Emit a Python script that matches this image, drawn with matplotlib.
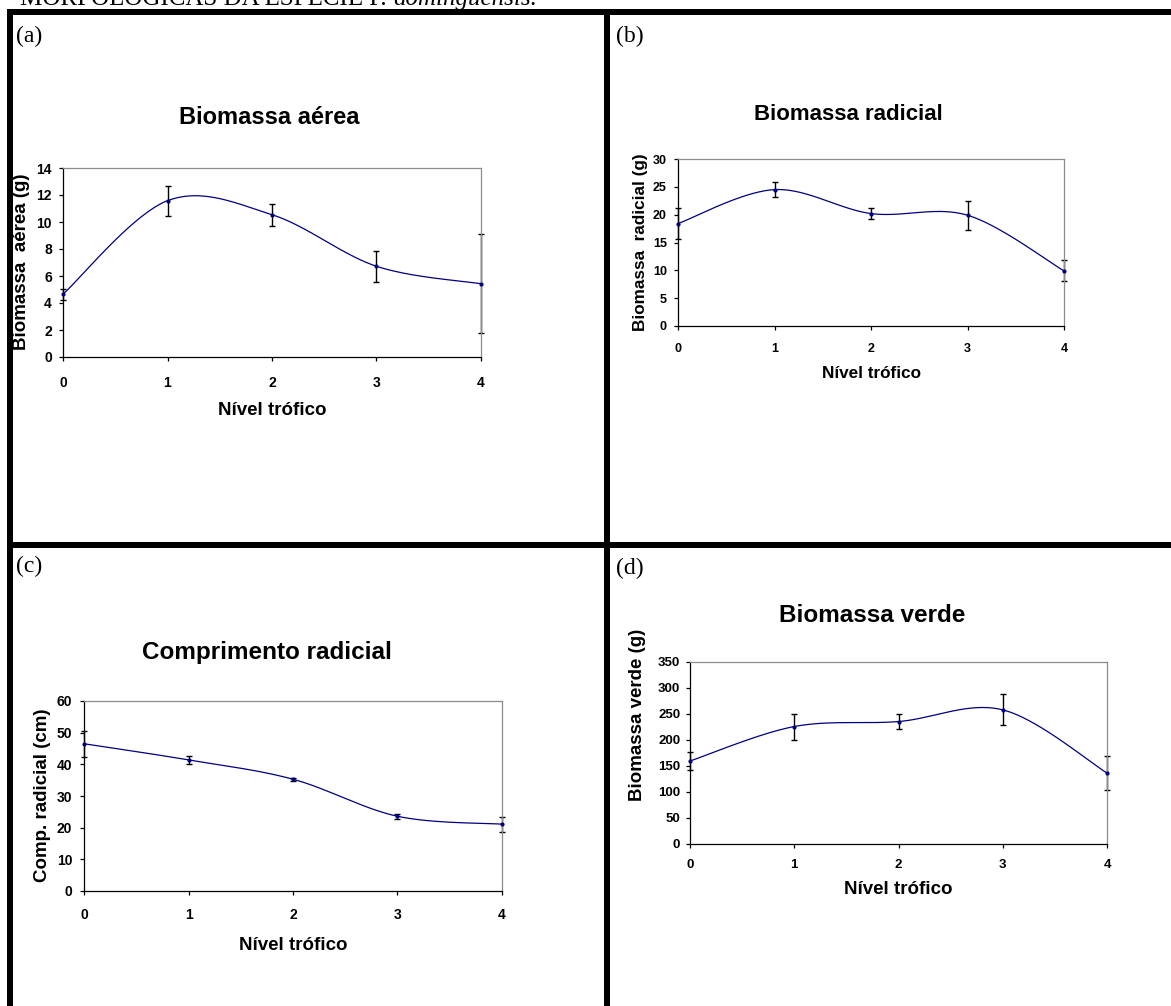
import numpy as np
import matplotlib
matplotlib.use("Agg")
import matplotlib.pyplot as plt
from matplotlib.lines import Line2D

W, H = 1171, 1006
DPI = 100

# ---------------- data ----------------
niveis = [0, 1, 2, 3, 4]
aerea = [4.65, 11.58, 10.54, 6.72, 5.43]
aerea_err = [0.40, 1.10, 0.83, 1.15, 3.68]
radicial = [18.4, 24.5, 20.2, 19.9, 9.9]
radicial_err = [2.8, 1.4, 1.0, 2.6, 1.9]
comp = [46.5, 41.4, 35.3, 23.6, 21.1]
comp_err = [4.1, 1.3, 0.5, 0.8, 2.4]
verde = [159.6, 225.9, 235.5, 258.0, 136.4]
verde_err = [17, 25, 14.5, 30, 32]

titles = ["Biomassa aérea", "Biomassa radicial", "Comprimento radicial", "Biomassa verde"]
ylabels = ["Biomassa  aérea (g)", "Biomassa  radicial (g)", "Comp. radicial (cm)", "Biomassa verde (g)"]
xlabel = "Nível trófico"
panel_tags = ["(a)", "(b)", "(c)", "(d)"]
header_parts = ["MORFOLÓGICAS DA ESPÉCIE P. ", "dominguensis."]

plt.rcParams['font.family'] = ['Liberation Sans', 'DejaVu Sans']

fig = plt.figure(figsize=(W / DPI, H / DPI), dpi=DPI)


def fx(px):
    return px / W


def fy(py):
    return 1 - py / H


def smooth(x, y, n=40):
    P = np.column_stack([x, y]).astype(float)
    Pe = np.vstack([P[0], P, P[-1]])
    t = np.linspace(0, 1, n)[:, None]
    out = []
    for i in range(len(P) - 1):
        p0, p1, p2, p3 = Pe[i], Pe[i + 1], Pe[i + 2], Pe[i + 3]
        c1 = p1 + (p2 - p0) / 6
        c2 = p2 - (p3 - p1) / 6
        seg = (1 - t) ** 3 * p1 + 3 * (1 - t) ** 2 * t * c1 + 3 * (1 - t) * t ** 2 * c2 + t ** 3 * p2
        out.append(seg if i == 0 else seg[1:])
    return np.vstack(out)


# panel specs: axes box (l, r, t, b) px, ymax, ystep, font sizes, text positions
specs = [
    dict(y=aerea, e=aerea_err, box=(63, 481, 168, 357), ymax=14, step=2,
         tfs=17, title_xy=(269, 118), lfs=13.5, xl_xy=(272, 411), yl_xy=(22, 262),
         tick_fs=10, xpad=10.5, ypad=5),
    dict(y=radicial, e=radicial_err, box=(678, 1064, 159, 326), ymax=30, step=5,
         tfs=16, title_xy=(848, 115), lfs=12.3, xl_xy=(872, 374), yl_xy=(640, 242),
         tick_fs=9, xpad=9.5, ypad=5),
    dict(y=comp, e=comp_err, box=(84, 502, 701, 891), ymax=60, step=10,
         tfs=17.5, title_xy=(267, 653), lfs=13.5, xl_xy=(293, 945), yl_xy=(43, 795),
         tick_fs=10, xpad=9.5, ypad=5.5),
    dict(y=verde, e=verde_err, box=(690, 1107, 662, 844), ymax=350, step=50,
         tfs=17.5, title_xy=(872, 615), lfs=13.5, xl_xy=(898, 890), yl_xy=(637, 715),
         tick_fs=9.5, xpad=8, ypad=4),
]

for sp in specs:
    l, r, t, b = sp['box']
    ax = fig.add_axes([fx(l), fy(b), (r - l) / W, (b - t) / H])
    curve = smooth(niveis, sp['y'])
    ax.plot(curve[:, 0], curve[:, 1], color='#000080', lw=0.9, zorder=3, clip_on=False)
    ax.plot(niveis, sp['y'], 'o', color='#000080', ms=2, zorder=4, clip_on=False)
    ax.errorbar(niveis, sp['y'], yerr=sp['e'], fmt='none', ecolor='black',
                elinewidth=1.0, capsize=2.2, capthick=1.0, zorder=2, clip_on=False)
    ax.set_xlim(0, 4)
    ax.set_ylim(0, sp['ymax'])
    ax.set_xticks(niveis)
    ax.set_yticks(np.arange(0, sp['ymax'] + 0.001, sp['step']))
    for side in ['left', 'bottom']:
        ax.spines[side].set_color('black')
        ax.spines[side].set_linewidth(0.9)
    for side in ['top', 'right']:
        ax.spines[side].set_color('#8c8c8c')
        ax.spines[side].set_linewidth(0.9)
    ax.tick_params(axis='x', direction='out', length=3, width=0.9, pad=sp['xpad'],
                   labelsize=sp['tick_fs'])
    ax.tick_params(axis='y', direction='out', length=3, width=0.9, pad=sp['ypad'],
                   labelsize=sp['tick_fs'])
    for lab in ax.get_xticklabels() + ax.get_yticklabels():
        lab.set_fontweight('bold')
    ax.set_facecolor('white')

for sp, ttl, yl in zip(specs, titles, ylabels):
    tx, ty = sp['title_xy']
    fig.text(fx(tx), fy(ty), ttl, ha='center', va='center', fontsize=sp['tfs'], fontweight='bold')
    xx, xy = sp['xl_xy']
    fig.text(fx(xx), fy(xy), xlabel, ha='center', va='center', fontsize=sp['lfs'], fontweight='bold')
    yx, yy = sp['yl_xy']
    fig.text(fx(yx), fy(yy), yl, ha='center', va='center', rotation=90,
             fontsize=sp['lfs'], fontweight='bold')

# panel tags
tag_pos = [(16, 36), (616, 36), (16, 566), (616, 568)]
for tag, (px, py) in zip(panel_tags, tag_pos):
    fig.text(fx(px), fy(py), tag, ha='left', va='center', fontsize=17,
             family=['Liberation Serif', 'DejaVu Serif'])

# header line, mostly cut off at the top edge
serif = ['Liberation Serif', 'DejaVu Serif']
renderer = fig.canvas.get_renderer()
h1 = fig.text(fx(20), fy(5), header_parts[0], ha='left', va='baseline', fontsize=18,
              family=serif)
bb = h1.get_window_extent(renderer=renderer)
fig.text(bb.x1 / W, fy(5), header_parts[1], ha='left', va='baseline', fontsize=18,
         style='italic', family=serif)

# table frame lines (px coordinates)
lw = 6 * 72 / DPI
frame = [
    ((7, W + 5), (11.5, 11.5)),
    ((7, W + 5), (545, 545)),
    ((10, 10), (9, H + 5)),
    ((607, 607), (9, H + 5)),
]
for xs, ys in frame:
    fig.add_artist(Line2D([fx(xs[0]), fx(xs[1])], [fy(ys[0]), fy(ys[1])],
                          color='black', lw=lw, solid_capstyle='butt',
                          transform=fig.transFigure))

fig.savefig("out.png", dpi=DPI)
